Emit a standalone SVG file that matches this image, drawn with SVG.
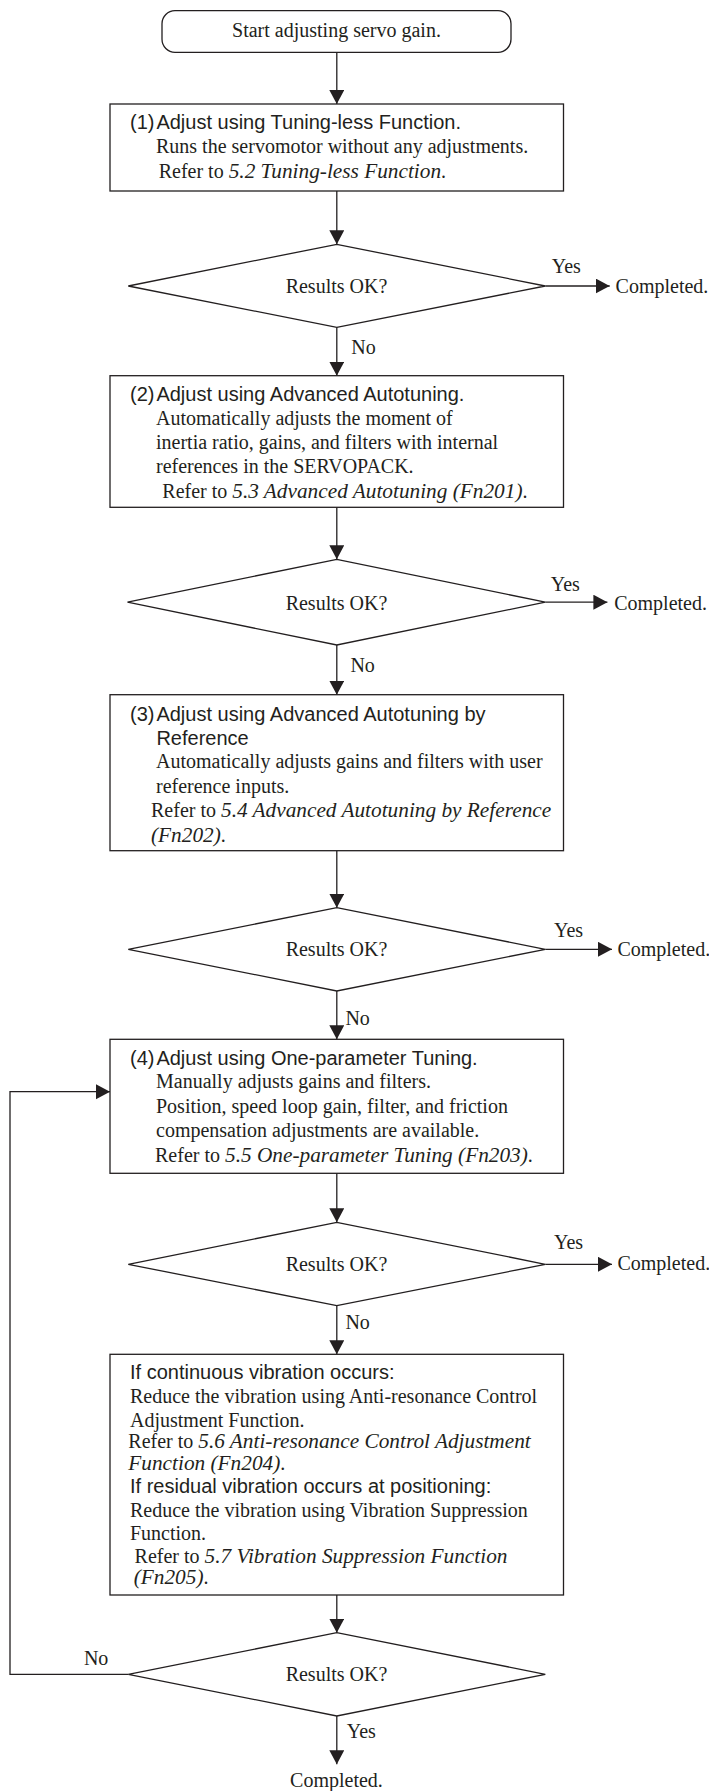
<svg xmlns="http://www.w3.org/2000/svg" width="709" height="1791" viewBox="0 0 709 1791">
<style>
.shape{fill:#fff;stroke:#231f20;stroke-width:1.3}
.conn{fill:none;stroke:#231f20;stroke-width:1.3}
.s{font-family:"Liberation Sans",Arial,sans-serif;font-size:20px;fill:#231f20}
.t{font-family:"Liberation Serif","Times New Roman",serif;font-size:20px;fill:#231f20}
.c{text-anchor:middle}
.i{font-style:italic;font-size:21.3px}
</style>
<defs>
<marker id="arr" markerUnits="userSpaceOnUse" markerWidth="15" markerHeight="16" refX="14" refY="7.5" orient="auto">
<path d="M0,0 L14,7.5 L0,15 z" fill="#231f20"/>
</marker>
</defs>
<rect width="709" height="1791" fill="#fff"/>
<g id="connectors">
<line class="conn" x1="336.8" y1="52.3" x2="336.8" y2="104" marker-end="url(#arr)"/>
<line class="conn" x1="336.8" y1="191" x2="336.8" y2="244.3" marker-end="url(#arr)"/>
<line class="conn" x1="545.3" y1="286" x2="609.7" y2="286" marker-end="url(#arr)"/>
<line class="conn" x1="336.8" y1="327.3" x2="336.8" y2="375.7" marker-end="url(#arr)"/>
<line class="conn" x1="336.8" y1="507.3" x2="336.8" y2="559.3" marker-end="url(#arr)"/>
<line class="conn" x1="545.3" y1="602.2" x2="607.4" y2="602.2" marker-end="url(#arr)"/>
<line class="conn" x1="336.8" y1="645" x2="336.8" y2="694.7" marker-end="url(#arr)"/>
<line class="conn" x1="336.8" y1="850.7" x2="336.8" y2="907.7" marker-end="url(#arr)"/>
<line class="conn" x1="545.3" y1="949.3" x2="612" y2="949.3" marker-end="url(#arr)"/>
<line class="conn" x1="336.8" y1="991" x2="336.8" y2="1039.3" marker-end="url(#arr)"/>
<line class="conn" x1="336.8" y1="1173.3" x2="336.8" y2="1222.3" marker-end="url(#arr)"/>
<line class="conn" x1="545.3" y1="1264.3" x2="612" y2="1264.3" marker-end="url(#arr)"/>
<line class="conn" x1="336.8" y1="1305.7" x2="336.8" y2="1354.3" marker-end="url(#arr)"/>
<line class="conn" x1="336.8" y1="1595" x2="336.8" y2="1632.7" marker-end="url(#arr)"/>
<line class="conn" x1="336.8" y1="1716" x2="336.8" y2="1764.3" marker-end="url(#arr)"/>
<polyline class="conn" points="128.3,1674.3 10,1674.3 10,1091.7 110,1091.7" marker-end="url(#arr)"/>
<text class="t" x="551.7" y="273.3">Yes</text>
<text class="t" x="351.3" y="354">No</text>
<text class="t" x="550.8" y="590.7">Yes</text>
<text class="t" x="350.4" y="671.7">No</text>
<text class="t" x="554" y="936.7">Yes</text>
<text class="t" x="345.4" y="1025">No</text>
<text class="t" x="554" y="1249.3">Yes</text>
<text class="t" x="345.4" y="1329.3">No</text>
<text class="t" x="83.9" y="1665">No</text>
<text class="t" x="346.8" y="1738.3">Yes</text>
</g>
<g id="start">
<rect class="shape" x="162" y="10.7" width="349" height="41.6" rx="13" ry="13"/>
<text class="t c" x="336.5" y="37.3">Start adjusting servo gain.</text>
</g>
<g id="step1">
<rect class="shape" x="110" y="104" width="453.5" height="87"/>
<text class="s" x="130" y="129.3">(1)</text>
<text class="s" x="156.4" y="129.3">Adjust using Tuning-less Function.</text>
<text class="t" x="156" y="153.3">Runs the servomotor without any adjustments.</text>
<text class="t" x="158.7" y="178.3">Refer to <tspan class="i">5.2 Tuning-less Function</tspan>.</text>
</g>
<g id="check1">
<polygon class="shape" points="128.3,286 336.8,244.3 545.3,286 336.8,327.3"/>
<text class="t c" x="336.5" y="293.3">Results OK?</text>
</g>
<g id="done1"><text class="t" x="615.6" y="292.7">Completed.</text></g>
<g id="step2">
<rect class="shape" x="110" y="375.7" width="453.5" height="131.6"/>
<text class="s" x="130" y="400.7">(2)</text>
<text class="s" x="156.4" y="400.7">Adjust using Advanced Autotuning.</text>
<text class="t" x="156" y="425">Automatically adjusts the moment of</text>
<text class="t" x="156" y="449">inertia ratio, gains, and filters with internal</text>
<text class="t" x="156" y="473.3">references in the SERVOPACK.</text>
<text class="t" x="162.3" y="498.3">Refer to <tspan class="i">5.3 Advanced Autotuning (Fn201)</tspan>.</text>
</g>
<g id="check2">
<polygon class="shape" points="127.5,602.2 336.8,559.3 545.3,602.2 336.8,645"/>
<text class="t c" x="336.5" y="609.5">Results OK?</text>
</g>
<g id="done2"><text class="t" x="614.2" y="610">Completed.</text></g>
<g id="step3">
<rect class="shape" x="110" y="694.7" width="453.5" height="156"/>
<text class="s" x="130" y="721">(3)</text>
<text class="s" x="156.4" y="721">Adjust using Advanced Autotuning by</text>
<text class="s" x="156.4" y="745">Reference</text>
<text class="t" x="156" y="768.3">Automatically adjusts gains and filters with user</text>
<text class="t" x="156" y="793.3">reference inputs.</text>
<text class="t" x="151" y="817.3">Refer to <tspan class="i">5.4 Advanced Autotuning by Reference</tspan></text>
<text class="t" x="151" y="841.7"><tspan class="i">(Fn202)</tspan>.</text>
</g>
<g id="check3">
<polygon class="shape" points="128.3,949.3 336.8,907.7 545.3,949.3 336.8,991"/>
<text class="t c" x="336.5" y="956">Results OK?</text>
</g>
<g id="done3"><text class="t" x="617.4" y="956">Completed.</text></g>
<g id="step4">
<rect class="shape" x="110" y="1039.3" width="453.5" height="134"/>
<text class="s" x="130" y="1065">(4)</text>
<text class="s" x="156.4" y="1065">Adjust using One-parameter Tuning.</text>
<text class="t" x="156" y="1088.3">Manually adjusts gains and filters.</text>
<text class="t" x="156" y="1112.7">Position, speed loop gain, filter, and friction</text>
<text class="t" x="156" y="1136.7">compensation adjustments are available.</text>
<text class="t" x="155" y="1161.7">Refer to <tspan class="i">5.5 One-parameter Tuning (Fn203)</tspan>.</text>
</g>
<g id="check4">
<polygon class="shape" points="128.3,1264.3 336.8,1222.3 545.3,1264.3 336.8,1305.7"/>
<text class="t c" x="336.5" y="1270.7">Results OK?</text>
</g>
<g id="done4"><text class="t" x="617.4" y="1270">Completed.</text></g>
<g id="step5">
<rect class="shape" x="110" y="1354.3" width="453.5" height="240.7"/>
<text class="s" x="130" y="1379.3">If continuous vibration occurs:</text>
<text class="t" x="130" y="1403.3">Reduce the vibration using Anti-resonance Control</text>
<text class="t" x="130" y="1426.7">Adjustment Function.</text>
<text class="t" x="128.3" y="1448.3">Refer to <tspan class="i">5.6 Anti-resonance Control Adjustment</tspan></text>
<text class="t" x="128.3" y="1470"><tspan class="i">Function (Fn204)</tspan>.</text>
<text class="s" x="130" y="1492.7">If residual vibration occurs at positioning:</text>
<text class="t" x="130" y="1517.3">Reduce the vibration using Vibration Suppression</text>
<text class="t" x="130" y="1540">Function.</text>
<text class="t" x="134.6" y="1562.7">Refer to <tspan class="i">5.7 Vibration Suppression Function</tspan></text>
<text class="t" x="133.7" y="1584"><tspan class="i">(Fn205)</tspan>.</text>
</g>
<g id="check5">
<polygon class="shape" points="128.3,1674.3 336.8,1632.7 545.3,1674.3 336.8,1716"/>
<text class="t c" x="336.5" y="1680.7">Results OK?</text>
</g>
<g id="done5"><text class="t c" x="336.5" y="1786.7">Completed.</text></g>
</svg>
